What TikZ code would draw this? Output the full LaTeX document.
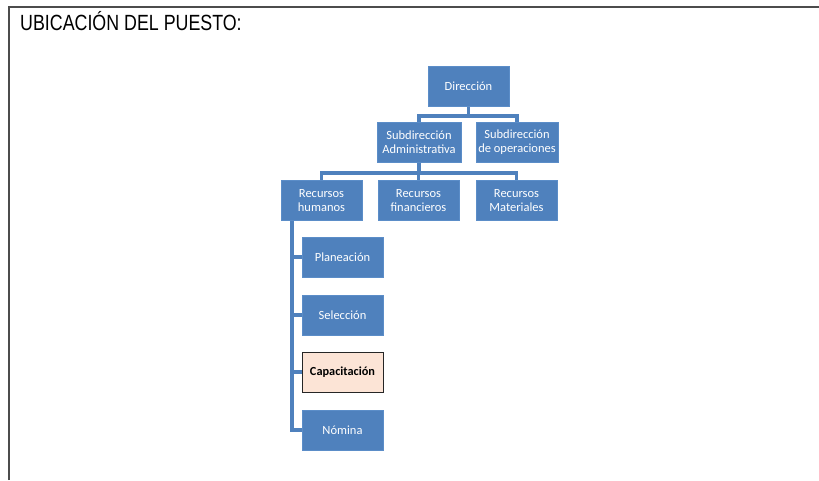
\documentclass[tikz,border=0pt]{standalone}
\usepackage{fontspec}
\usetikzlibrary{backgrounds}
\setmainfont{Carlito}
\newfontfamily\titlefont{Liberation Sans}
\definecolor{obox}{HTML}{4F81BD}
\definecolor{obord}{HTML}{5B8DC8}
\definecolor{peach}{HTML}{FCE4D6}
\begin{document}
\begin{tikzpicture}[x=1pt,y=-1pt,
  orgbox/.style={draw=obord,line width=0.8pt,fill=obox,text=white,minimum width=81pt,minimum height=40pt,inner sep=1pt,align=center,font=\fontsize{12.5}{14}\selectfont},
  hlbox/.style={orgbox,fill=peach,draw=black!85,text=black,font=\fontsize{12.3}{14}\selectfont\bfseries},
  conn/.style={draw=obox,line width=3.4pt}]
\useasboundingbox (0,0) rectangle (819,480);
\draw[line width=1.6pt,draw=black!70] (9,480) -- (9,7) -- (819,7);
\node[anchor=base west,inner sep=0pt,font=\titlefont\fontsize{22}{24}\selectfont] (title) at (20,30.5) {\scalebox{0.81}[1]{UBICACIÓN DEL PUESTO:}};
\node[orgbox] (dir) at (468.5,86.5) {Dirección};
\node[orgbox,minimum width=84pt] (sadm) at (419,142.5) {Subdirección\\Administrativa};
\node[orgbox,minimum width=82pt] (sop) at (517,142.5) {Subdirección\\de operaciones};
\node[orgbox] (rh) at (321.5,200.5) {Recursos\\humanos};
\node[orgbox] (rf) at (418.5,200.5) {Recursos\\financieros};
\node[orgbox] (rm) at (516.5,200.5) {Recursos\\Materiales};
\node[orgbox] (pla) at (342.5,257) {Planeación};
\node[orgbox] (sel) at (342.5,315) {Selección};
\node[hlbox] (cap) at (342.5,372) {Capacitación};
\node[orgbox] (nom) at (342.5,430) {Nómina};
\coordinate (j1) at (468.5,116);
\coordinate (j2) at (419,173);
\coordinate (rhx) at (292,215);
\begin{scope}[on background layer]
\draw[conn] (dir.center) -- (j1);
\draw[conn] (j1) -| (sadm.center);
\draw[conn] (j1) -| (sop.center);
\draw[conn] (sadm.center) -- (j2);
\draw[conn] (j2) -| (rh.center);
\draw[conn] (j2) -| (rf.center);
\draw[conn] (j2) -| (rm.center);
\draw[conn] (rhx) |- (nom.center);
\draw[conn] (rhx) |- (pla.center);
\draw[conn] (rhx) |- (sel.center);
\draw[conn] (rhx) |- (cap.center);
\end{scope}
\end{tikzpicture}
\end{document}
